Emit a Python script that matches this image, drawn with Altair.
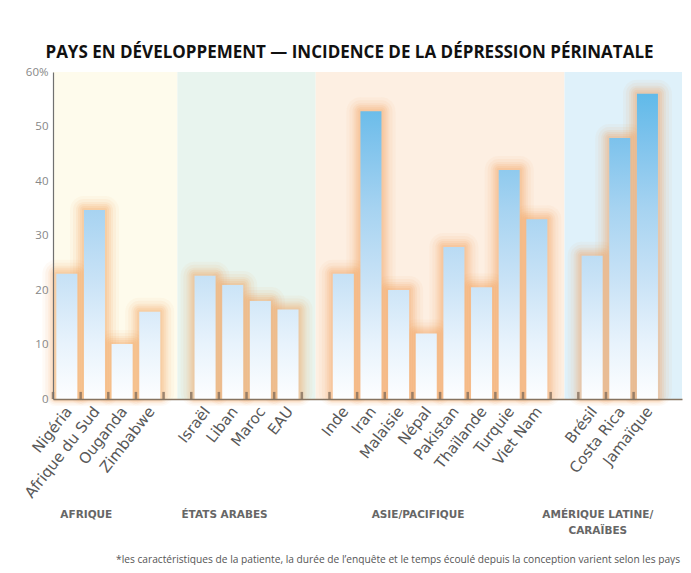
import altair as alt
import pandas as pd

# ---- data -------------------------------------------------------------
countries = ["Nigéria", "Afrique du Sud", "Ouganda", "Zimbabwe",
             "Israël", "Liban", "Maroc", "EAU",
             "Inde", "Iran", "Malaisie", "Népal", "Pakistan", "Thaïlande", "Turquie", "Viet Nam",
             "Brésil", "Costa Rica", "Jamaïque"]
values = [23.0, 34.7, 10.1, 16.0,
          22.6, 20.9, 18.0, 16.4,
          23.0, 52.8, 20.0, 12.0, 27.9, 20.5, 42.0, 33.0,
          26.3, 47.9, 56.0]
group_sizes = [4, 4, 8, 3]
regions = ["AFRIQUE", "ÉTATS ARABES", "ASIE/PACIFIQUE", "AMÉRIQUE LATINE/\nCARAÏBES"]
region_colors = ["#fefbec", "#e8f4ee", "#fdefe2", "#dff1fa"]
y_ticks = [0, 10, 20, 30, 40, 50, 60]
title_text = "PAYS EN DÉVELOPPEMENT — INCIDENCE DE LA DÉPRESSION PÉRINATALE"
footnote = ("*les caractéristiques de la patiente, la durée de l’enquête et le temps écoulé "
            "depuis la conception varient selon les pays")

# ---- derived slot layout (one empty slot between groups) --------------
slots, band_rows, label_rows = [], [], []
pos = 0
for g, n in enumerate(group_sizes):
    start = pos
    for _ in range(n):
        slots.append(pos)
        pos += 1
    band_rows.append({"region": regions[g],
                      "x0": start - 0.5 if g == 0 else start - 1,
                      "x1": pos,
                      "top": 60, "bottom": 0})
    label_rows.append({"region": regions[g], "mid": (start + pos - 1) / 2})
    pos += 1
X_MAX = 22.25
band_rows[-1]["x1"] = X_MAX

bars = pd.DataFrame({"country": countries, "value": values, "slot": slots})
bars["x0"] = bars["slot"] - 0.38
bars["x1"] = bars["slot"] + 0.38
bars["base"] = 0
bands = pd.DataFrame(band_rows)
labels = pd.DataFrame(label_rows)
ticks = pd.DataFrame({"b": [i - 0.5 for i in range(22)], "lo": 0, "hi": 1.3})
foot = pd.DataFrame({"t": [footnote]})

W, H = 629, 327
xs = alt.Scale(domain=[-0.5, X_MAX], nice=False, zero=False)
ys = alt.Scale(domain=[0, 60], nice=False)

FONT = "Open Sans"

x_axis = alt.Axis(labels=False, ticks=False, grid=False, title=None,
                  domainColor="#857360", domainWidth=1.3, zindex=1)
y_axis = alt.Axis(values=y_ticks, ticks=False, grid=False, title=None,
                  labelExpr="datum.value == 60 ? '60%' : datum.label",
                  labelColor="#878787", labelFontSize=11.5, labelFont=FONT,
                  labelPadding=5, domainColor="#707070", domainWidth=1.2, zindex=2)


def X(f):
    return alt.X(f, scale=xs, axis=x_axis, title=None)


def Y(f):
    return alt.Y(f, scale=ys, axis=y_axis, title=None)


band_layer = alt.Chart(bands).mark_rect().encode(
    x=X("x0:Q"), x2="x1:Q",
    y=Y("top:Q"), y2="bottom:Q",
    fill=alt.Fill("region:N", scale=alt.Scale(domain=regions, range=region_colors), legend=None),
)

layers = [band_layer]

# orange glow around bars
for k, op in [(14, 0.05), (11, 0.07), (8, 0.09), (6, 0.11), (4, 0.12), (2, 0.13)]:
    layers.append(alt.Chart(bars).mark_bar(color="#f39a52", opacity=op, cornerRadius=k,
                                           xOffset=-k, x2Offset=k, yOffset=-k, y2Offset=k * 0.5).encode(
        x=X("x0:Q"), x2="x1:Q",
        y=Y("value:Q"), y2="base:Q"))

# gradient bars (gradient tied to absolute height)
abs_stops = [(0, "#fdfeff"), (10, "#e8f3fc"), (22, "#c8e2f6"), (35, "#a6d3f1"),
             (48, "#7cc2ec"), (56, "#60bae9"), (60, "#55b5e7")]


def hx(c):
    return tuple(int(c[i:i + 2], 16) for i in (1, 3, 5))


def interp(v):
    for (a, ca), (b, cb) in zip(abs_stops, abs_stops[1:]):
        if a <= v <= b:
            t = (v - a) / (b - a)
            r = [round(p + (q - p) * t) for p, q in zip(hx(ca), hx(cb))]
            return "#%02x%02x%02x" % tuple(r)
    return abs_stops[-1][1]


for i in range(len(bars)):
    v = bars.loc[i, "value"]
    stops = [alt.GradientStop(offset=s / v, color=c) for s, c in abs_stops if s < v]
    stops.append(alt.GradientStop(offset=1, color=interp(v)))
    grad = alt.LinearGradient(gradient="linear", stops=stops, x1=0, x2=0, y1=1, y2=0)
    layers.append(alt.Chart(bars.iloc[[i]]).mark_bar(color=grad).encode(
        x=X("x0:Q"), x2="x1:Q",
        y=Y("value:Q"), y2="base:Q"))

# small tick marks at slot boundaries
layers.append(alt.Chart(ticks).mark_rule(color="#7d6a58", strokeWidth=2.5, opacity=0.75).encode(
    x=X("b:Q"), y=Y("lo:Q"), y2="hi:Q"))

# country labels
layers.append(alt.Chart(bars).mark_text(angle=308, align="right", baseline="middle", fontSize=15,
                                        font="DejaVu Sans", color="#585858", dx=3).encode(
    x=X("slot:Q"),
    y=alt.value(H + 12),
    text="country:N"))

# region labels
layers.append(alt.Chart(labels).mark_text(align="center", baseline="top", fontSize=10.5,
                                          font="DejaVu Sans", fontWeight="bold", color="#666666",
                                          lineBreak="\n", lineHeight=16, dx=-22).encode(
    x=X("mid:Q"),
    y=alt.value(H + 111),
    text="region:N"))

# footnote
layers.append(alt.Chart(foot).mark_text(align="right", baseline="middle", fontSize=10.2, font=FONT,
                                        color="#555555").encode(
    x=alt.value(W - 2), y=alt.value(H + 161), text="t:N"))

chart = alt.layer(*layers).properties(
    width=W, height=H,
    autosize=alt.AutoSizeParams(type="none"),
    padding={"left": 45, "top": 64, "right": 1, "bottom": 166},
    title=alt.TitleParams(title_text, font=FONT, fontSize=17, fontWeight="bold", color="#111111",
                          anchor="middle", dx=-18, offset=4),
    background="white",
).configure_view(stroke=None)

chart.save("out.html", embed_options={"renderer": "svg", "actions": False})
